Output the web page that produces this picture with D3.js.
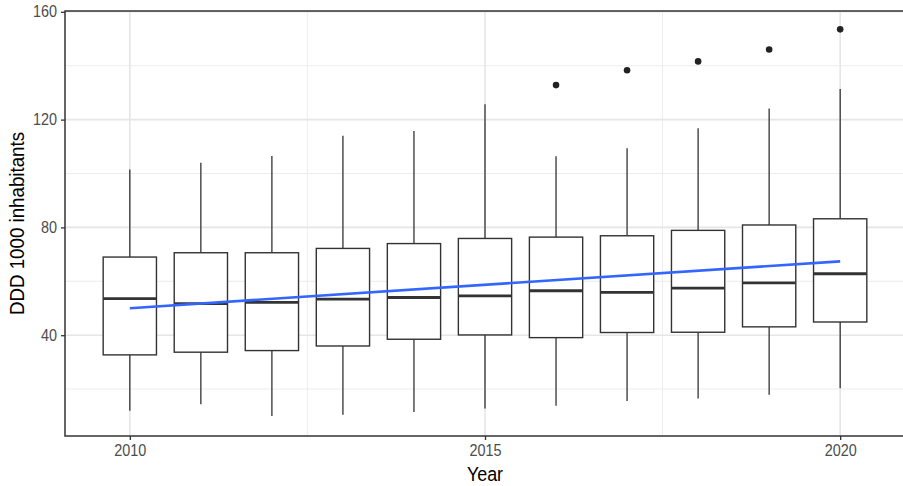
<!DOCTYPE html>
<html><head><meta charset="utf-8">
<script src="https://cdn.jsdelivr.net/npm/d3@7"></script>
<style>body{margin:0;background:#fff;}svg{display:block;}
.sq{transform-box:fill-box;transform-origin:center;}
</style>
</head><body><svg id="c" width="903" height="486"></svg>
<script>
const years      = [2010,2011,2012,2013,2014,2015,2016,2017,2018,2019,2020];
const whiskerLow = [12.0,14.4,10.0,10.5,11.5,12.8,13.8,15.6,16.5,17.9,20.3];
const q1         = [32.7,33.7,34.3,36.0,38.5,40.1,39.1,41.0,41.1,43.1,44.9];
const median     = [53.6,51.7,52.2,53.4,54.0,54.6,56.5,55.9,57.5,59.4,62.8];
const q3         = [69.0,70.6,70.6,72.2,74.0,75.9,76.4,76.9,78.9,80.9,83.2];
const whiskerHigh= [101.5,104.0,106.5,114.0,115.8,125.7,106.4,109.4,116.8,124.1,131.4];
const outlierYears = [2016,2017,2018,2019,2020];
const outlierValues= [132.8,138.3,141.6,146.0,153.5];
const trendYears  = [2010,2020];
const trendValues = [50.0,67.4];
const xTicks = [2010,2015,2020];
const xMinor = [2012.5,2017.5];
const yTicks = [40,80,120,160];
const yMinor = [20,60,100,140];

const FONT = "Liberation Sans, Arial, sans-serif";
const svg = d3.select("#c");
const L=65,R=905,T=11,B=436;
const x = d3.scaleLinear().domain([2009.0875,2020.9125]).range([L,R]);
const y = d3.scaleLinear().domain([2.6,160.3]).range([B,T]);
const bw = x(2010.375)-x(2009.625);

const g = svg.append("g");
// grid
g.selectAll(".ymin").data(yMinor).join("line").attr("x1",L).attr("x2",R)
  .attr("y1",d=>y(d)).attr("y2",d=>y(d)).attr("stroke","#ebebeb").attr("stroke-width",0.9);
g.selectAll(".xmin").data(xMinor).join("line").attr("y1",T).attr("y2",B)
  .attr("x1",d=>x(d)).attr("x2",d=>x(d)).attr("stroke","#ebebeb").attr("stroke-width",0.9);
g.selectAll(".ymaj").data(yTicks).join("line").attr("x1",L).attr("x2",R)
  .attr("y1",d=>y(d)).attr("y2",d=>y(d)).attr("stroke","#e6e6e6").attr("stroke-width",1.6);
g.selectAll(".xmaj").data(xTicks).join("line").attr("y1",T).attr("y2",B)
  .attr("x1",d=>x(d)).attr("x2",d=>x(d)).attr("stroke","#e6e6e6").attr("stroke-width",1.6);

// boxes
const data = years.map((yr,i)=>({yr,lo:whiskerLow[i],q1:q1[i],med:median[i],q3:q3[i],hi:whiskerHigh[i]}));
const bx = g.selectAll(".box").data(data).join("g");
bx.append("line").attr("x1",d=>x(d.yr)).attr("x2",d=>x(d.yr)).attr("y1",d=>y(d.hi)).attr("y2",d=>y(d.q3))
  .attr("stroke","#333").attr("stroke-width",1.3);
bx.append("line").attr("x1",d=>x(d.yr)).attr("x2",d=>x(d.yr)).attr("y1",d=>y(d.q1)).attr("y2",d=>y(d.lo))
  .attr("stroke","#333").attr("stroke-width",1.3);
bx.append("rect").attr("x",d=>x(d.yr)-bw/2).attr("width",bw).attr("y",d=>y(d.q3)).attr("height",d=>y(d.q1)-y(d.q3))
  .attr("fill","#fff").attr("stroke","#333").attr("stroke-width",1.4);
bx.append("line").attr("x1",d=>x(d.yr)-bw/2).attr("x2",d=>x(d.yr)+bw/2).attr("y1",d=>y(d.med)).attr("y2",d=>y(d.med))
  .attr("stroke","#333").attr("stroke-width",2.8);
g.selectAll(".out").data(outlierYears).join("circle").attr("cx",d=>x(d)).attr("cy",(d,i)=>y(outlierValues[i]))
  .attr("r",3.3).attr("fill","#222");

// trend
g.append("path").datum(trendYears.map((t,i)=>[t,trendValues[i]]))
  .attr("d",d3.line().x(d=>x(d[0])).y(d=>y(d[1]))).attr("fill","none").attr("stroke","#3366FF").attr("stroke-width",2.6);

// panel border
g.append("rect").attr("x",L).attr("y",T).attr("width",R-L).attr("height",B-T).attr("fill","none")
  .attr("stroke","#333").attr("stroke-width",1.5);

// axes
const xa = svg.append("g").attr("transform",`translate(0,${B})`)
  .call(d3.axisBottom(x).tickValues(xTicks).tickFormat(d3.format("d")).tickSize(4).tickPadding(5));
const ya = svg.append("g").attr("transform",`translate(${L},0)`)
  .call(d3.axisLeft(y).tickValues(yTicks).tickSize(4).tickPadding(4));
[xa,ya].forEach(a=>{
  a.select(".domain").remove();
  a.selectAll(".tick line").attr("stroke","#333").attr("stroke-width",1.3);
  a.selectAll(".tick text").attr("fill","#4d4d4d").style("font-family",FONT).style("font-size","16px")
    .classed("sq",true).style("transform","scaleX(0.9)");
});
ya.selectAll(".tick text").style("transform-origin","right center");
svg.append("text").attr("x",(L+R)/2).attr("y",481).attr("text-anchor","middle").classed("sq",true)
  .style("transform","scaleX(0.92)")
  .style("font-family",FONT).style("font-size","19.5px").attr("fill","#000").text("Year");
svg.append("g").attr("transform",`translate(24,${(T+B)/2}) rotate(-90)`)
  .append("text").attr("text-anchor","middle").classed("sq",true).style("transform","scaleX(0.96)")
  .style("font-family",FONT).style("font-size","19.5px").attr("fill","#000").text("DDD 1000 inhabitants");
</script></body></html>
